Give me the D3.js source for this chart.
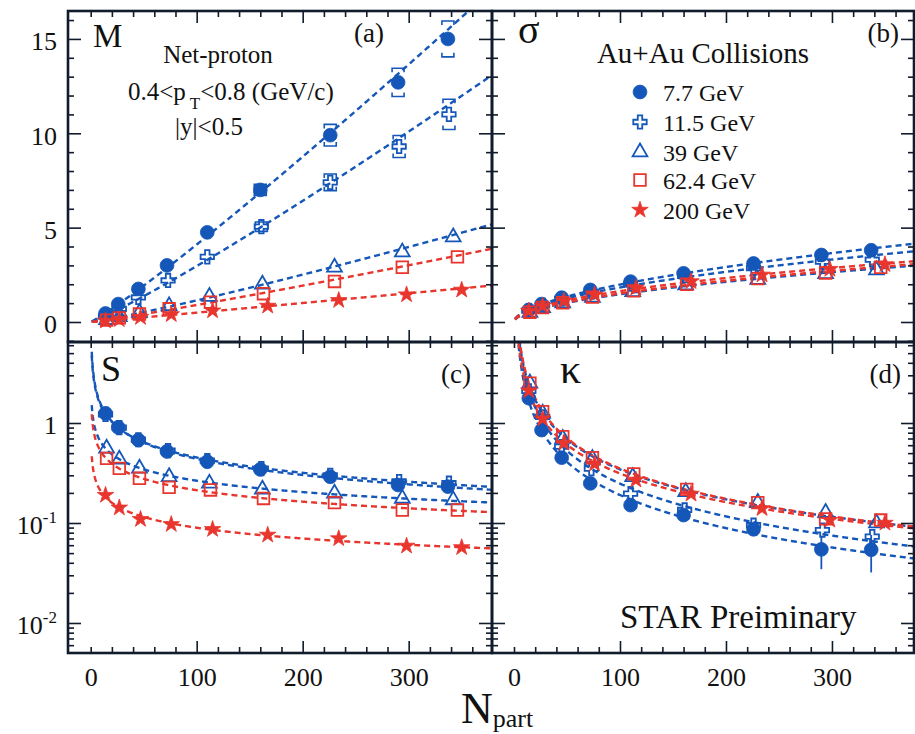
<!DOCTYPE html>
<html><head><meta charset="utf-8">
<script src="https://cdn.jsdelivr.net/npm/d3@7"></script>
<style>
body{margin:0;background:#fff;}
svg{display:block;}
text{font-family:"Liberation Serif","Times New Roman",serif;fill:#111;}
</style>
</head><body>
<svg id="chart" width="915" height="734"></svg>
<script>
// ---------------- DATA ----------------
const energies = ["7.7 GeV", "11.5 GeV", "39 GeV", "62.4 GeV", "200 GeV"];

// N_part per centrality bin (0-5% ... 70-80%)
const npart77  = [337, 290, 226, 160, 110, 72, 45, 26, 14];
const npart115 = [338, 291, 226, 161, 110, 73, 45, 27, 14];
const npart39  = [342, 294, 230, 162, 112, 74, 46, 27, 15];
const npart624 = [346, 294, 230, 163, 113, 74, 46, 27, 15];
const npart200 = [350, 298, 234, 167, 115, 76, 47, 27, 14];

// (a) mean M
const M77  = [15.0, 12.7, 9.9, 7.0, 4.75, 3.0, 1.75, 0.95, 0.45];
const M115 = [11.0, 9.3, 7.4, 5.05, 3.45, 2.2, 1.3, 0.7, 0.3];
const M39  = [4.5, 3.7, 2.9, 2.0, 1.35, 0.85, 0.5, 0.27, 0.12];
const M624 = [3.45, 2.9, 2.15, 1.5, 1.05, 0.7, 0.42, 0.22, 0.1];
const M200 = [1.7, 1.45, 1.15, 0.85, 0.6, 0.4, 0.25, 0.13, 0.06];
const sysM77  = [0.95, 0.75, 0.57, 0.3, 0, 0, 0, 0, 0];
const sysM115 = [0.8, 0.58, 0.44, 0.25, 0, 0, 0, 0, 0];

// (b) sigma
const S77  = [3.8, 3.55, 3.1, 2.58, 2.14, 1.7, 1.29, 0.95, 0.64];
const S115 = [3.3, 3.2, 2.85, 2.45, 2.0, 1.6, 1.22, 0.9, 0.6];
const S39  = [2.75, 2.55, 2.25, 1.95, 1.6, 1.3, 1.0, 0.75, 0.5];
const S624 = [2.9, 2.6, 2.3, 2.0, 1.65, 1.32, 1.02, 0.77, 0.52];
const S200 = [3.05, 2.8, 2.5, 2.15, 1.8, 1.45, 1.12, 0.85, 0.58];

// (c) skewness
const Sk77  = [0.231, 0.24, 0.29, 0.344, 0.41, 0.52, 0.676, 0.905, 1.25];
const Sk115 = [0.25, 0.26, 0.30, 0.35, 0.42, 0.53, 0.68, 0.9, 1.22];
const Sk39  = [0.17, 0.176, 0.198, 0.217, 0.249, 0.29, 0.352, 0.433, 0.558];
const Sk624 = [0.135, 0.135, 0.16, 0.176, 0.214, 0.227, 0.28, 0.352, 0.443];
const Sk200 = [0.057, 0.059, 0.070, 0.076, 0.0865, 0.097, 0.109, 0.142, 0.19];

// (d) kurtosis
const K77  = [0.054, 0.0545, 0.0865, 0.12, 0.151, 0.249, 0.45, 0.85, 1.77];
const K115 = [0.073, 0.085, 0.095, 0.135, 0.197, 0.35, 0.58, 1.15, 2.1];
const K39  = [0.1, 0.127, 0.16, 0.205, 0.29, 0.44, 0.70, 1.25, 2.5];
const K624 = [0.107, 0.11, 0.16, 0.217, 0.31, 0.45, 0.73, 1.3, 2.5];
const K200 = [0.1, 0.107, 0.14, 0.195, 0.27, 0.39, 0.63, 1.1, 2.1];
const errK77 = [0.022, 0.02, 0.008, 0, 0, 0, 0, 0, 0];

const xMajorTicks = [100, 200, 300];
const xLabelTicks = [0, 100, 200, 300];
const yLinLabels = [0, 5, 10, 15];
const yLogLabels = [1, 0.1, 0.01];

// ---------------- LAYOUT / STYLE ----------------
const L = 68, MX = 492, R = 914, T = 11, MY = 342, B = 653;
const BLUE = "#1557b8", RED = "#e8352d", FRAME = "#101b2c";
const svg = d3.select("#chart");

const xA = d3.scaleLinear().domain([-21.4, 378.6]).range([L, MX]);
const xB = d3.scaleLinear().domain([-20.75, 377.4]).range([MX, R]);
const yLin = d3.scaleLinear().domain([-1.06, 16.48]).range([MY, T]);
const yLog = d3.scaleLog().domain([0.00501, 6.46]).range([B, MY]);

const npartAll = [npart77, npart115, npart39, npart624, npart200];
const colors = [BLUE, BLUE, BLUE, RED, RED];
const shapes = [
  {type: d3.symbolCircle, size: 150, fill: true},
  {type: d3.symbolCross, size: 100, fill: false},
  {type: d3.symbolTriangle, size: 95, fill: false},
  {type: d3.symbolSquare, size: 135, fill: false},
  {type: d3.symbolStar, size: 85, fill: true}
];

const panels = [
  {id: "a", x: xA, y: yLin, x0: L, x1: MX, y0: T, y1: MY, log: false, vals: [M77, M115, M39, M624, M200]},
  {id: "b", x: xB, y: yLin, x0: MX, x1: R, y0: T, y1: MY, log: false, vals: [S77, S115, S39, S624, S200]},
  {id: "c", x: xA, y: yLog, x0: L, x1: MX, y0: MY, y1: B, log: true, vals: [Sk77, Sk115, Sk39, Sk624, Sk200]},
  {id: "d", x: xB, y: yLog, x0: MX, x1: R, y0: MY, y1: B, log: true, vals: [K77, K115, K39, K624, K200]}
];

// power-law least squares fit in log-log space, from the data points
function powerFit(xs, ys) {
  const lx = xs.map(Math.log), ly = ys.map(Math.log);
  const mx = d3.mean(lx), my = d3.mean(ly);
  let num = 0, den = 0;
  lx.forEach((v, i) => { num += (v - mx) * (ly[i] - my); den += (v - mx) * (v - mx); });
  const b = num / den;
  const a = Math.exp(my - b * mx);
  return n => a * Math.pow(n, b);
}

const defs = svg.append("defs");
panels.forEach(p => {
  defs.append("clipPath").attr("id", "clip-" + p.id)
    .append("rect").attr("x", p.x0).attr("y", p.y0)
    .attr("width", p.x1 - p.x0).attr("height", p.y1 - p.y0);
});

const fitN = d3.range(1, 381, 0.5);

panels.forEach(p => {
  const g = svg.append("g").attr("clip-path", `url(#clip-${p.id})`);
  // fit lines
  p.vals.forEach((vals, si) => {
    const f = powerFit(npartAll[si], vals);
    const line = d3.line().x(n => p.x(n)).y(n => p.y(Math.max(1e-4, Math.min(1e3, f(n)))));
    g.append("path").datum(fitN).attr("d", line)
      .attr("fill", "none").attr("stroke", colors[si])
      .attr("stroke-width", 2.4).attr("stroke-dasharray", "6,4");
  });
  // systematic brackets panel a
  if (p.id === "a") {
    [[sysM77, M77, npart77], [sysM115, M115, npart115]].forEach(([sys, v, np]) => {
      sys.forEach((s, i) => {
        if (!s) return;
        const cx = p.x(np[i]), yt = p.y(v[i] + s), yb = p.y(v[i] - s), w = 6;
        g.append("path")
          .attr("d", `M${cx-w},${yt+4}V${yt}H${cx+w}V${yt+4}M${cx-w},${yb-4}V${yb}H${cx+w}V${yb-4}`)
          .attr("fill", "none").attr("stroke", BLUE).attr("stroke-width", 1.6);
      });
    });
  }
  // error bars panel d
  if (p.id === "d") {
    errK77.forEach((e, i) => {
      if (!e) return;
      g.append("line").attr("x1", p.x(npart77[i])).attr("x2", p.x(npart77[i]))
        .attr("y1", p.y(K77[i] - e)).attr("y2", p.y(K77[i] + e))
        .attr("stroke", BLUE).attr("stroke-width", 1.8);
    });
  }
  // markers
  p.vals.forEach((vals, si) => {
    const sh = shapes[si];
    const sym = d3.symbol().type(sh.type).size(sh.size);
    g.selectAll(null).data(vals).enter().append("path")
      .attr("d", sym)
      .attr("transform", (v, i) => `translate(${p.x(npartAll[si][i])},${p.y(v)})`)
      .attr("fill", sh.fill ? colors[si] : "none")
      .attr("stroke", colors[si]).attr("stroke-width", sh.fill ? 0.8 : 1.8);
  });
});

// ---------------- TICKS & FRAMES ----------------
function styleAxis(s) {
  s.select(".domain").remove();
  s.selectAll("text").remove();
  s.selectAll("line").attr("stroke", FRAME).attr("stroke-width", 1.6);
}
const xMinor = d3.range(0, 380, 20).filter(v => !xMajorTicks.includes(v));
const linMinor = d3.range(-1, 17, 1).filter(v => !yLinLabels.includes(v));
const logMinor = [];
[0.001, 0.01, 0.1, 1].forEach(d => { for (let k = 2; k <= 9; k++) { const v = d * k; if (v > 0.00501 && v < 6.46) logMinor.push(v); } });

panels.forEach(p => {
  const g = svg.append("g");
  const add = (axis, tx, ty) => g.append("g").attr("transform", `translate(${tx},${ty})`).call(axis).call(styleAxis);
  add(d3.axisBottom(p.x).tickValues(xMajorTicks).tickSize(-12), 0, p.y1);
  add(d3.axisBottom(p.x).tickValues(xMinor).tickSize(-6), 0, p.y1);
  add(d3.axisTop(p.x).tickValues(xMajorTicks).tickSize(-12), 0, p.y0);
  add(d3.axisTop(p.x).tickValues(xMinor).tickSize(-6), 0, p.y0);
  const yMaj = p.log ? yLogLabels : yLinLabels;
  const yMin = p.log ? logMinor : linMinor;
  add(d3.axisLeft(p.y).tickValues(yMaj).tickSize(-13), p.x0, 0);
  add(d3.axisLeft(p.y).tickValues(yMin).tickSize(-6), p.x0, 0);
  add(d3.axisRight(p.y).tickValues(yMaj).tickSize(-13), p.x1, 0);
  add(d3.axisRight(p.y).tickValues(yMin).tickSize(-6), p.x1, 0);
  g.append("rect").attr("x", p.x0).attr("y", p.y0)
    .attr("width", p.x1 - p.x0).attr("height", p.y1 - p.y0)
    .attr("fill", "none").attr("stroke", FRAME).attr("stroke-width", 2.6);
});

// ---------------- AXIS LABELS ----------------
function labelAxis(s, size) {
  s.select(".domain").remove();
  s.selectAll("line").remove();
  s.selectAll("text").attr("font-size", size).attr("fill", "#111")
    .attr("font-family", '"Liberation Serif","Times New Roman",serif');
}
[xA, xB].forEach(sc => {
  svg.append("g").attr("transform", `translate(0,${B})`)
    .call(d3.axisBottom(sc).tickValues(xLabelTicks).tickSize(0).tickPadding(15))
    .call(s => labelAxis(s, 26));
});
svg.append("g").attr("transform", `translate(${L},0)`)
  .call(d3.axisLeft(yLin).tickValues(yLinLabels).tickSize(0).tickPadding(11))
  .call(s => labelAxis(s, 26))
  .selectAll("text").attr("dy", "0.42em");

yLogLabels.forEach(v => {
  const t = svg.append("text").attr("x", 57).attr("y", yLog(v) + 11)
    .attr("text-anchor", "end").attr("font-size", 26);
  if (v === 1) { t.text("1"); }
  else {
    t.append("tspan").text("10");
    t.append("tspan").attr("font-size", 17).attr("dy", -11).text(v === 0.1 ? "-1" : "-2");
  }
});

// x title
const xt = svg.append("text").attr("x", 461).attr("y", 723).attr("font-size", 44);
xt.append("tspan").text("N");
xt.append("tspan").attr("font-size", 26).attr("dy", 4).text("part");

// ---------------- PANEL TEXTS ----------------
function txt(x, y, s, size, anchor) {
  return svg.append("text").attr("x", x).attr("y", y).attr("font-size", size)
    .attr("text-anchor", anchor || "start").text(s);
}
txt(93, 47, "M", 33);
txt(384, 42, "(a)", 27, "end");
txt(218, 63, "Net-proton", 25, "middle");
const pt = svg.append("text").attr("x", 128).attr("y", 100).attr("font-size", 25);
pt.append("tspan").text("0.4<p");
pt.append("tspan").attr("font-size", 17).attr("dx", 4).attr("dy", 9).text("T");
pt.append("tspan").attr("dy", -9).text("<0.8 (GeV/c)");
txt(209, 135, "|y|<0.5", 25, "middle");

txt(518, 43, "σ", 40);
txt(899, 42, "(b)", 27, "end");
txt(703, 63, "Au+Au Collisions", 29, "middle");

// legend
const legY = [92, 122, 152, 180, 210];
energies.forEach((e, i) => {
  const sh = shapes[i];
  svg.append("path").attr("d", d3.symbol().type(sh.type).size(sh.size)())
    .attr("transform", `translate(640,${legY[i]})`)
    .attr("fill", sh.fill ? colors[i] : "none")
    .attr("stroke", colors[i]).attr("stroke-width", sh.fill ? 0.8 : 1.8);
  txt(663, legY[i] + 9, e, 24);
});

txt(101, 381, "S", 36);
txt(471, 383, "(c)", 27, "end");
txt(560, 383, "κ", 42);
txt(901, 383, "(d)", 27, "end");
txt(620, 628, "STAR Preiminary", 33);
</script>
</body></html>
